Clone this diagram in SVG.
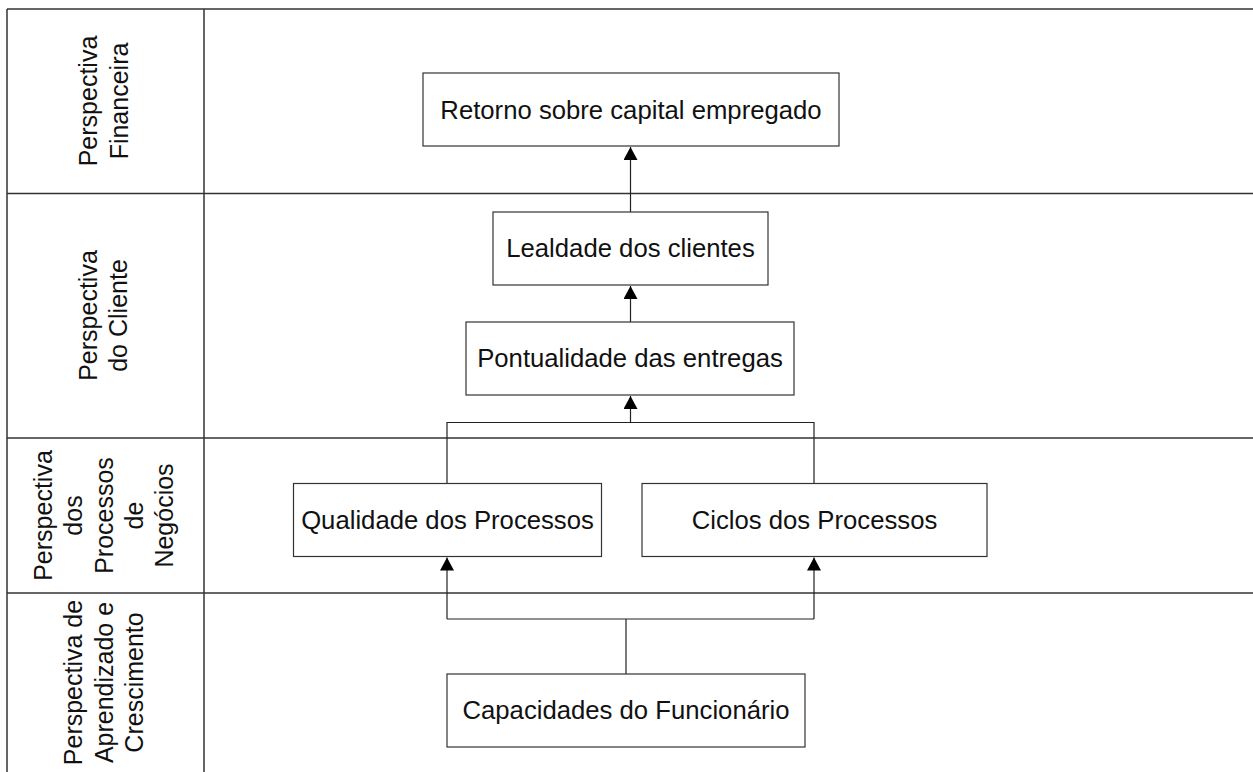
<svg xmlns="http://www.w3.org/2000/svg" width="1253" height="772" viewBox="0 0 1253 772">
<style>
.lane{stroke:#333;stroke-width:1.5;fill:none}
.box{fill:#fff;stroke:#333;stroke-width:1.2}
.t{font-family:"Liberation Sans",Arial,sans-serif;font-size:25px;fill:#111;text-anchor:middle}
.bt{font-size:25.7px}
.conn{stroke:#222;stroke-width:1.2;fill:none}
</style>
<defs>
<marker id="arr" markerUnits="userSpaceOnUse" markerWidth="14" markerHeight="14" viewBox="0 0 14 14" refX="13" refY="7" orient="auto">
<path d="M0,0 L13,7 L0,14 Z" fill="#000"/>
</marker>
</defs>
<rect width="1253" height="772" fill="#fff"/>
<g id="lanes">
<line class="lane" x1="7" y1="9" x2="1253" y2="9"/>
<line class="lane" x1="7" y1="193.5" x2="1253" y2="193.5"/>
<line class="lane" x1="7" y1="438" x2="1253" y2="438"/>
<line class="lane" x1="7" y1="593" x2="1253" y2="593"/>
<line class="lane" x1="7" y1="9" x2="7" y2="772"/>
<line class="lane" x1="204" y1="9" x2="204" y2="772"/>
</g>
<g id="lane-labels">
<g id="lbl-fin" transform="translate(105,101) rotate(-90)">
<text class="t" x="0" y="-8">Perspectiva</text>
<text class="t" x="0" y="23">Financeira</text>
</g>
<g id="lbl-cli" transform="translate(105,315.5) rotate(-90)">
<text class="t" x="0" y="-8">Perspectiva</text>
<text class="t" x="0" y="22">do Cliente</text>
</g>
<g id="lbl-proc" transform="translate(105,515.5) rotate(-90)">
<text class="t" x="0" y="-53">Perspectiva</text>
<text class="t" x="0" y="-23">dos</text>
<text class="t" x="0" y="8">Processos</text>
<text class="t" x="0" y="38">de</text>
<text class="t" x="0" y="68">Negócios</text>
</g>
<g id="lbl-apr" transform="translate(105,682.5) rotate(-90)">
<text class="t" x="0" y="-23">Perspectiva de</text>
<text class="t" x="0" y="8">Aprendizado e</text>
<text class="t" x="0" y="38">Crescimento</text>
</g>
</g>
<g id="connectors">
<line class="conn" x1="630.5" y1="212" x2="630.5" y2="147" marker-end="url(#arr)"/>
<line class="conn" x1="630.5" y1="322" x2="630.5" y2="286" marker-end="url(#arr)"/>
<polyline class="conn" points="447,483 447,422.5 814,422.5 814,483"/>
<line class="conn" x1="630.5" y1="422.5" x2="630.5" y2="396" marker-end="url(#arr)"/>
<line class="conn" x1="626" y1="674" x2="626" y2="619"/>
<polyline class="conn" points="447,619 814,619"/>
<line class="conn" x1="447" y1="619" x2="447" y2="557.5" marker-end="url(#arr)"/>
<line class="conn" x1="814" y1="619" x2="814" y2="557.5" marker-end="url(#arr)"/>
</g>
<g id="n-retorno">
<rect class="box" x="423" y="73" width="416" height="73"/>
<text class="t bt" x="631" y="119">Retorno sobre capital empregado</text>
</g>
<g id="n-lealdade">
<rect class="box" x="493" y="212" width="275" height="73"/>
<text class="t bt" x="630.5" y="257">Lealdade dos clientes</text>
</g>
<g id="n-pontualidade">
<rect class="box" x="466" y="322" width="328" height="73"/>
<text class="t bt" x="630" y="367">Pontualidade das entregas</text>
</g>
<g id="n-qualidade">
<rect class="box" x="293.5" y="483.5" width="308" height="73"/>
<text class="t bt" x="447.5" y="529">Qualidade dos Processos</text>
</g>
<g id="n-ciclos">
<rect class="box" x="642" y="483.5" width="345" height="73"/>
<text class="t bt" x="814.5" y="529">Ciclos dos Processos</text>
</g>
<g id="n-capacidades">
<rect class="box" x="447" y="674" width="358" height="73"/>
<text class="t bt" x="626" y="719">Capacidades do Funcionário</text>
</g>
</svg>
